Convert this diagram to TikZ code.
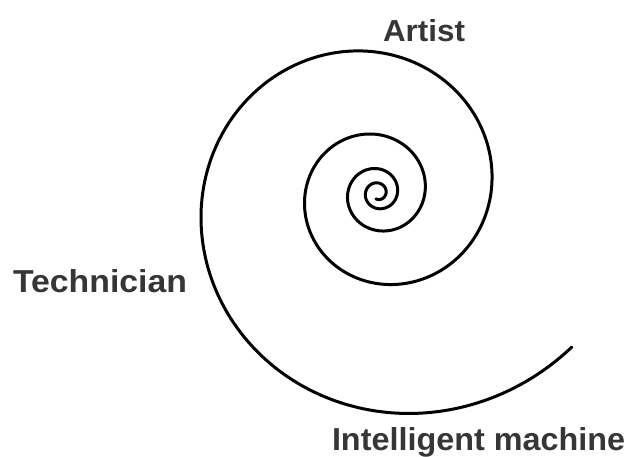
\documentclass[tikz,border=0pt]{standalone}
\usepackage{fontspec}
\setmainfont{Liberation Sans}
\usepackage{graphicx}
\definecolor{labelgray}{HTML}{363636}
\tikzset{
  lbl/.style={anchor=base west, inner sep=0pt, outer sep=0pt, text=labelgray, font=\bfseries},
  spiral/.style={line width=3pt, line cap=round, line join=round, black}
}
\begin{document}
\begin{tikzpicture}[x=1pt,y=-1pt]
\useasboundingbox (0,0) rectangle (633,457);
\draw[spiral, domain=38.5:1550, samples=900, smooth, variable=\t]
  plot ({378 + 178.7*exp(-0.0024365*(\t-172.05))*cos(\t)},
        {193 + 178.7*exp(-0.0024365*(\t-172.05))*sin(\t)});
\node[lbl] (artist) at (383,42) {\resizebox{82pt}{22pt}{Artist}};
\node[lbl] (tech) at (13,293) {\resizebox{174pt}{23pt}{Technician}};
\node[lbl] (machine) at (332,450) {\resizebox{293pt}{23pt}{Intelligent machine}};
\end{tikzpicture}
\end{document}
